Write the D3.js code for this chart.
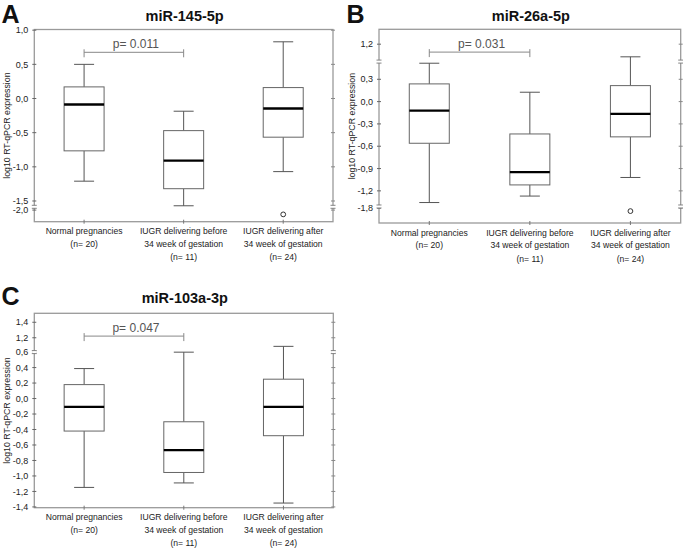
<!DOCTYPE html>
<html>
<head>
<meta charset="utf-8">
<script src="https://cdn.jsdelivr.net/npm/d3@7"></script>
<style>
  body { margin: 0; background: #fff; }
  svg { display: block; font-family: "Liberation Sans", Arial, sans-serif; }
</style>
</head>
<body>
<svg id="chart" width="683" height="548"></svg>
<script>
// ---------------- DATA ----------------
const categoryLabels = [
  ["Normal pregnancies", "(n= 20)"],
  ["IUGR delivering before", "34 week of gestation", "(n= 11)"],
  ["IUGR delivering after", "34 week of gestation", "(n= 24)"]
];
const categories = ["Normal", "IUGR<34", "IUGR>34"];

// box stats: [whisker low, Q1, median, Q3, whisker high]
const statsA = [
  [-1.21, -0.766, -0.088, 0.17, 0.50],
  [-1.57, -1.32, -0.91, -0.47, -0.186],
  [-1.07, -0.566, -0.146, 0.16, 0.83]
];
const outliersA = [[], [], [-2.063]];
const statsB = [
  [-1.357, -0.56, -0.121, 0.238, 0.516],
  [-1.27, -1.12, -0.949, -0.435, 0.126],
  [-1.02, -0.474, -0.165, 0.215, 1.03]
];
const outliersB = [[], [], [-1.84]];
const statsC = [
  [-1.148, -0.42, -0.107, 0.18, 0.387],
  [-1.09, -0.955, -0.666, -0.30, 0.599],
  [-1.35, -0.48, -0.107, 0.25, 1.089]
];
const outliersC = [[], [], []];

// broken-axis segments (bottom to top) and ticks
const segmentsA = [[-2.17, -1.952], [-1.585, 1.01]];
const segmentsB = [[-2.0, -1.778], [-1.41, 0.538], [0.966, 1.40]];
const segmentsC = [[-1.41, 0.6], [1.015, 1.516]];
const ticksA = [1.0, 0.5, 0.0, -0.5, -1.0, -1.5, -2.0];
const ticksB = [1.2, 0.3, 0.0, -0.3, -0.6, -0.9, -1.2, -1.8];
const ticksC = [1.4, 1.2, 0.6, 0.4, 0.2, 0.0, -0.2, -0.4, -0.6, -0.8, -1.0, -1.2, -1.4];

const titles = ["miR-145-5p", "miR-26a-5p", "miR-103a-3p"];
const letters = ["A", "B", "C"];
const pValues = ["p= 0.011", "p= 0.031", "p= 0.047"];
const yLabel = "log10 RT-qPCR expression";

// ---------------- LAYOUT ----------------
const panels = [
  { stats: statsA, outliers: outliersA, segs: segmentsA, ticks: ticksA, title: titles[0], letter: letters[0], p: pValues[0],
    left: 34.3, right: 333, top: 29.5, bottom: 221.7, ox: 0, oy: 0 },
  { stats: statsB, outliers: outliersB, segs: segmentsB, ticks: ticksB, title: titles[1], letter: letters[1], p: pValues[1],
    left: 379, right: 680.7, top: 29.3, bottom: 223, ox: 345, oy: 0 },
  { stats: statsC, outliers: outliersC, segs: segmentsC, ticks: ticksC, title: titles[2], letter: letters[2], p: pValues[2],
    left: 34.3, right: 333.3, top: 313.3, bottom: 507.7, ox: 0, oy: 282 }
];

const svg = d3.select("#chart");
const fmt = v => {
  const s = d3.format(".1f")(v).replace(".", ",").replace("−", "-");
  return s === "-0,0" ? "0,0" : s;
};

function buildScale(segs, top, bottom) {
  const total = d3.sum(segs, s => s[1] - s[0]);
  const k = (bottom - top) / total;
  const dom = [], rng = [];
  let y = bottom;
  segs.forEach(s => {
    dom.push(s[0]); rng.push(y);
    y -= (s[1] - s[0]) * k;
    dom.push(s[1]); rng.push(y);
  });
  const breaks = [];
  for (let i = 1; i < rng.length - 1; i += 2) breaks.push(rng[i]);
  return { scale: d3.scaleLinear().domain(dom).range(rng), breaks };
}

panels.forEach(P => {
  const g = svg.append("g");
  const { scale: y, breaks } = buildScale(P.segs, P.top, P.bottom);
  const x = d3.scalePoint().domain(categories).range([P.left, P.right]).padding(0.5);
  const frameCol = "#9a9a9a";

  // letter and title
  g.append("text").attr("x", P.ox + 1.5).attr("y", P.oy + 23)
    .attr("font-size", 25).attr("font-weight", "bold").attr("fill", "#111").text(P.letter);
  g.append("text").attr("x", (P.left + P.right) / 2 + 1).attr("y", P.oy + 20.5)
    .attr("text-anchor", "middle").attr("font-size", 14.5).attr("font-weight", "bold").attr("fill", "#111").text(P.title);

  // frame
  g.append("rect").attr("x", P.left).attr("y", P.top)
    .attr("width", P.right - P.left).attr("height", P.bottom - P.top)
    .attr("fill", "none").attr("stroke", frameCol).attr("stroke-width", 1.3);

  // y ticks (left and right)
  P.ticks.forEach(t => {
    const yy = y(t);
    g.append("line").attr("x1", P.left - 2).attr("x2", P.left + 2).attr("y1", yy).attr("y2", yy)
      .attr("stroke", "#666").attr("stroke-width", 1);
    g.append("line").attr("x1", P.right - 2).attr("x2", P.right + 2).attr("y1", yy).attr("y2", yy)
      .attr("stroke", "#888").attr("stroke-width", 1);
    g.append("text").attr("x", P.left - 6).attr("y", yy + 3.2)
      .attr("text-anchor", "end").attr("font-size", 9).attr("fill", "#222").text(fmt(t));
  });

  // break marks
  breaks.forEach(b => {
    [P.left, P.right].forEach(ax => {
      g.append("rect").attr("x", ax - 2).attr("y", b - 1.5).attr("width", 4).attr("height", 3).attr("fill", "#fff");
      [-1.5, 1.5].forEach(d => g.append("line").attr("x1", ax - 2.5).attr("x2", ax + 2.5)
        .attr("y1", b + d).attr("y2", b + d).attr("stroke", "#777").attr("stroke-width", 0.9));
    });
  });

  // x ticks
  categories.forEach(c => {
    g.append("line").attr("x1", x(c)).attr("x2", x(c)).attr("y1", P.bottom - 2).attr("y2", P.bottom + 2)
      .attr("stroke", "#777");
  });

  // y label
  const ly = (P.top + P.bottom) / 2;
  g.append("text").attr("transform", `translate(${P.ox + 9.5},${ly}) rotate(-90)`)
    .attr("text-anchor", "middle").attr("font-size", 8.8).attr("fill", "#222").text(yLabel);

  // x labels
  categoryLabels.forEach((lines, i) => {
    const cx = x(categories[i]);
    const dys = [0, 12.7, 26];
    lines.forEach((ln, j) => {
      const dy = (lines.length === 2 && j === 1) ? 12.7 : dys[j];
      g.append("text").attr("x", cx).attr("y", P.bottom + 12.5 + dy)
        .attr("text-anchor", "middle").attr("font-size", 8.6).attr("fill", "#222").text(ln);
    });
  });

  // boxes
  const bw = 40, cap = 20;
  P.stats.forEach((s, i) => {
    const cx = x(categories[i]);
    const [lo, q1, med, q3, hi] = s;
    const wc = "#555";
    g.append("line").attr("x1", cx).attr("x2", cx).attr("y1", y(q3)).attr("y2", y(hi)).attr("stroke", wc);
    g.append("line").attr("x1", cx).attr("x2", cx).attr("y1", y(q1)).attr("y2", y(lo)).attr("stroke", wc);
    g.append("line").attr("x1", cx - cap / 2).attr("x2", cx + cap / 2).attr("y1", y(hi)).attr("y2", y(hi)).attr("stroke", wc);
    g.append("line").attr("x1", cx - cap / 2).attr("x2", cx + cap / 2).attr("y1", y(lo)).attr("y2", y(lo)).attr("stroke", wc);
    g.append("rect").attr("x", cx - bw / 2).attr("y", y(q3)).attr("width", bw).attr("height", y(q1) - y(q3))
      .attr("fill", "#fff").attr("stroke", "#666").attr("stroke-width", 1);
    g.append("line").attr("x1", cx - bw / 2).attr("x2", cx + bw / 2).attr("y1", y(med)).attr("y2", y(med))
      .attr("stroke", "#000").attr("stroke-width", 2.3);
    P.outliers[i].forEach(o => {
      g.append("circle").attr("cx", cx).attr("cy", y(o)).attr("r", 2.4)
        .attr("fill", "#fff").attr("stroke", "#333").attr("stroke-width", 1);
    });
  });

  // p-value bracket
  const bx1 = x(categories[0]), bx2 = x(categories[1]);
  const by = P.top + 22.8;
  g.append("line").attr("x1", bx1).attr("x2", bx2).attr("y1", by).attr("y2", by).attr("stroke", "#888");
  [bx1, bx2].forEach(bx => g.append("line").attr("x1", bx).attr("x2", bx).attr("y1", by - 3).attr("y2", by + 5).attr("stroke", "#888"));
  g.append("text").attr("x", (bx1 + bx2) / 2 + 2).attr("y", by - 4.5)
    .attr("text-anchor", "middle").attr("font-size", 12).attr("fill", "#555").text(P.p);
});
</script>
</body>
</html>
